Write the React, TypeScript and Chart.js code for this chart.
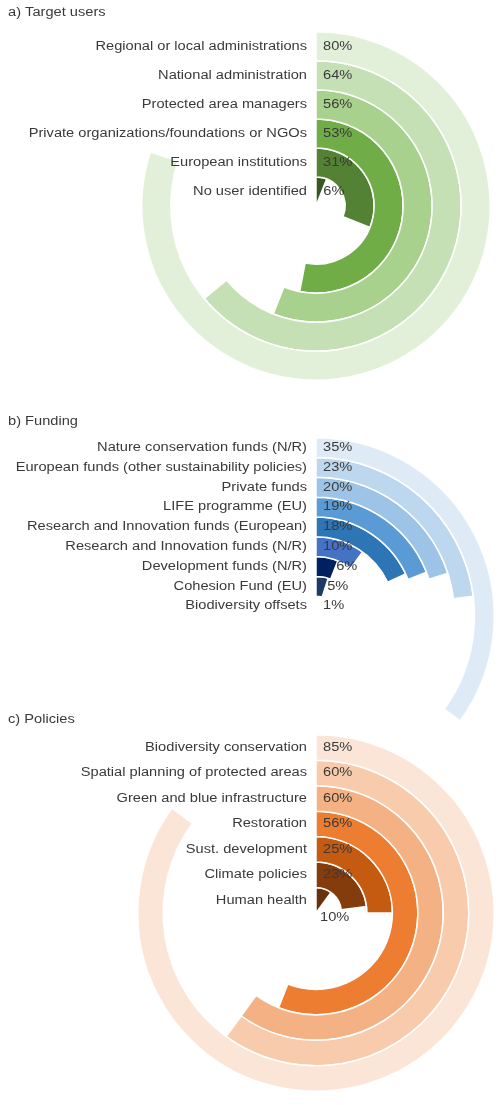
import React, { useEffect, useRef } from "react";
import { Chart, registerables } from "chart.js";

Chart.register(...registerables);

const PAGE_W = 503;
const PAGE_H = 1105;

// a) Target users
const usersTitle = "a) Target users";
const usersLabels = [
  "Regional or local administrations",
  "National administration",
  "Protected area managers",
  "Private organizations/foundations or NGOs",
  "European institutions",
  "No user identified",
];
const usersValues = [80, 64, 56, 53, 31, 6];
const usersColors = ["#E2F0D9", "#C5E0B4", "#A9D18E", "#70AD47", "#548235", "#385723"];

// b) Funding
const fundingTitle = "b) Funding";
const fundingLabels = [
  "Nature conservation funds (N/R)",
  "European funds (other sustainability policies)",
  "Private funds",
  "LIFE programme (EU)",
  "Research and Innovation funds (European)",
  "Research and Innovation funds (N/R)",
  "Development funds (N/R)",
  "Cohesion Fund (EU)",
  "Biodiversity offsets",
];
const fundingValues = [35, 23, 20, 19, 18, 10, 6, 5, 1];
const fundingColors = [
  "#DEEBF7",
  "#BDD7EE",
  "#9DC3E6",
  "#5B9BD5",
  "#2E75B6",
  "#4472C4",
  "#002060",
  "#203864",
  "#1F4E79",
];

// c) Policies
const policiesTitle = "c) Policies";
const policiesLabels = [
  "Biodiversity conservation",
  "Spatial planning of protected areas",
  "Green and blue infrastructure",
  "Restoration",
  "Sust. development",
  "Climate policies",
  "Human health",
];
const policiesValues = [85, 60, 60, 56, 25, 23, 10];
const policiesColors = ["#FBE5D6", "#F8CBAD", "#F4B183", "#ED7D31", "#C55A11", "#843C0C", "#6A300A"];

const FONT = '12px "Liberation Sans", Arial, sans-serif';
const SCALE_X = 1.22;
const TEXT_COLOR = "#3a3a3a";

type Panel = {
  title: string;
  labels: string[];
  values: number[];
  colors: string[];
  cx: number;
  cy: number;
  r: number;
  titleY: number;
  lastPctBelow: boolean;
};

const panels: Panel[] = [
  { title: usersTitle, labels: usersLabels, values: usersValues, colors: usersColors, cx: 316, cy: 206, r: 174, titleY: 13, lastPctBelow: false },
  { title: fundingTitle, labels: fundingLabels, values: fundingValues, colors: fundingColors, cx: 316, cy: 616, r: 178, titleY: 422, lastPctBelow: false },
  { title: policiesTitle, labels: policiesLabels, values: policiesValues, colors: policiesColors, cx: 316, cy: 913, r: 178, titleY: 720, lastPctBelow: true },
];

function drawText(ctx: CanvasRenderingContext2D, text: string, x: number, y: number, align: CanvasTextAlign) {
  ctx.save();
  ctx.translate(x, y);
  ctx.scale(SCALE_X, 1);
  ctx.textAlign = align;
  ctx.textBaseline = "middle";
  ctx.fillText(text, 0, 0);
  ctx.restore();
}

function makeLabelPlugin(panel: Panel) {
  return {
    id: "ringLabels",
    afterDraw(chart: any) {
      const ctx: CanvasRenderingContext2D = chart.ctx;
      ctx.save();
      ctx.font = FONT;
      ctx.fillStyle = TEXT_COLOR;
      drawText(ctx, panel.title, 8, panel.titleY, "left");
      const n = chart.data.datasets.length;
      for (let i = 0; i < n; i++) {
        const meta = chart.getDatasetMeta(i);
        const arc = meta.data[0];
        if (!arc) continue;
        const p = arc.getProps(["x", "y", "innerRadius", "outerRadius", "startAngle", "endAngle"], true);
        const rMid = (p.innerRadius + p.outerRadius) / 2;
        const ly = p.y - rMid;
        drawText(ctx, panel.labels[i], p.x - 9, ly, "right");
        const angle = p.endAngle - p.startAngle;
        const pctText = panel.values[i] + "%";
        if (panel.lastPctBelow && i === n - 1) {
          drawText(ctx, pctText, p.x + 4, p.y + 5, "left");
        } else {
          let shift = 7;
          if (angle < 0.5) shift = Math.max(7, rMid * Math.sin(angle) + 2);
          drawText(ctx, pctText, p.x + shift, ly, "left");
        }
      }
      ctx.restore();
    },
  };
}

function RingChart({ panel }: { panel: Panel }) {
  const ref = useRef<HTMLCanvasElement | null>(null);
  useEffect(() => {
    if (!ref.current) return;
    const half = panel.r + 1;
    const chart = new Chart(ref.current, {
      type: "doughnut",
      data: {
        labels: ["value", "rest"],
        datasets: panel.values.map((v, i) => ({
          data: [v, 100 - v],
          backgroundColor: [panel.colors[i], "rgba(0,0,0,0)"],
          borderColor: ["#ffffff", "rgba(0,0,0,0)"],
          borderWidth: [1.5, 0],
          hoverOffset: 0,
          offset: 0,
        })),
      },
      options: {
        animation: false,
        responsive: false,
        devicePixelRatio: 1,
        events: [],
        cutout: 0,
        rotation: 0,
        circumference: 360,
        layout: {
          padding: {
            left: panel.cx - half,
            right: PAGE_W - panel.cx - half,
            top: panel.cy - half,
            bottom: PAGE_H - panel.cy - half,
          },
        },
        plugins: {
          legend: { display: false },
          tooltip: { enabled: false },
          title: { display: false },
        },
      },
      plugins: [makeLabelPlugin(panel)],
    } as any);
    return () => chart.destroy();
  }, [panel]);
  return (
    <canvas
      ref={ref}
      width={PAGE_W}
      height={PAGE_H}
      style={{ position: "absolute", left: 0, top: 0, width: PAGE_W, height: PAGE_H }}
    />
  );
}

export default function App() {
  return (
    <div style={{ position: "absolute", left: 0, top: 0, width: PAGE_W, height: PAGE_H, background: "#ffffff", overflow: "hidden" }}>
      {panels.map((p) => (
        <RingChart key={p.title} panel={p} />
      ))}
    </div>
  );
}
